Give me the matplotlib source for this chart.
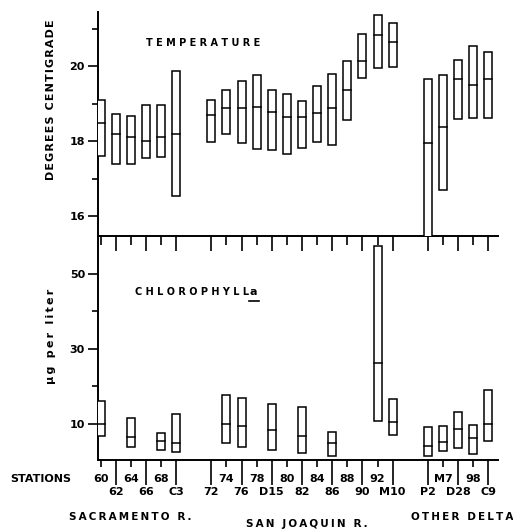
import matplotlib.pyplot as plt
from matplotlib.patches import Rectangle

# --- DONNEES ---
stations = ["60", "62", "64", "66", "68", "C3",
            "72", "74", "76", "78", "D15", "80", "82", "84", "86", "88", "90", "92", "M10",
            "P2", "M7", "D28", "98", "C9"]
group_sizes = [6, 13, 5]
group_names = ["SACRAMENTO R.", "SAN JOAQUIN R.", "OTHER DELTA"]
# ligne d'etiquette : 1 = haut (tiret court), 2 = bas (tiret long)
label_row = [1, 2, 1, 2, 1, 2,
             2, 1, 2, 1, 2, 1, 2, 1, 2, 1, 2, 1, 2,
             2, 1, 2, 1, 2]

temp_low = [17.61, 17.38, 17.38, 17.55, 17.59, 16.53,
            17.99, 18.20, 17.96, 17.80, 17.77, 17.66, 17.81, 17.97, 17.90, 18.58, 19.69, 19.95, 19.97,
            15.00, 16.70, 18.60, 18.61, 18.61]
temp_med = [18.49, 18.19, 18.11, 18.00, 18.10, 18.20,
            18.69, 18.90, 18.90, 18.91, 18.78, 18.66, 18.65, 18.75, 18.90, 19.38, 20.14, 20.84, 20.64,
            17.94, 18.38, 19.65, 19.49, 19.65]
temp_high = [19.09, 18.74, 18.67, 18.98, 18.98, 19.88,
             19.09, 19.37, 19.60, 19.76, 19.36, 19.26, 19.08, 19.48, 19.80, 20.15, 20.86, 21.37, 21.16,
             19.65, 19.77, 20.18, 20.55, 20.37]

chl_low = [6.7, None, 3.65, None, 2.85, 2.4,
           None, 4.7, 3.65, None, 2.9, None, 2.05, None, 1.4, None, None, 10.75, 7.0,
           1.3, 2.7, 3.4, 1.95, 5.3]
chl_med = [9.9, None, 6.3, None, 5.25, 4.9,
           None, 9.9, 9.3, None, 8.2, None, 6.7, None, 4.7, None, None, 26.2, 10.5,
           4.0, 5.1, 8.6, 6.05, 9.9]
chl_high = [16.1, None, 11.4, None, 7.5, 12.5,
            None, 17.5, 16.8, None, 15.3, None, 14.5, None, 7.8, None, None, 57.4, 16.5,
            9.0, 9.3, 13.0, 9.7, 18.9]

# --- POSITIONS ---
GAP = 1.33
pos = []
centers = []
x = 0.0
for n in group_sizes:
    start = x
    for i in range(n):
        pos.append(x)
        x += 1
    centers.append(start + (n - 1) / 2)
    x += GAP

W = 0.53
BOLD = dict(fontweight="bold", family="DejaVu Sans")


def boites(ax, low, med, high):
    for xi, lo, me, hi in zip(pos, low, med, high):
        if lo is None:
            continue
        ax.add_patch(Rectangle((xi - W / 2, lo), W, hi - lo, facecolor="white",
                               edgecolor="black", lw=1.1, zorder=3))
        ax.plot([xi - W / 2, xi + W / 2], [me, me], color="black", lw=1.1, zorder=4)


def style(ax):
    for s in ["top", "right"]:
        ax.spines[s].set_visible(False)
    for s in ["left", "bottom"]:
        ax.spines[s].set_linewidth(1.4)
    ax.set_xlim(-0.2, 26.3)
    ax.set_facecolor("none")
    ax.tick_params(axis="y", which="major", direction="out", length=7, width=1.2,
                   labelsize=8, pad=2)
    ax.tick_params(axis="y", which="minor", direction="out", length=4.5, width=1.2)
    for t in ax.get_yticklabels():
        t.set_fontweight("bold")


fig = plt.figure(figsize=(5.13, 5.29), dpi=100)
L, R = 97.5 / 513, 498 / 513
ax_c = fig.add_axes([L, 69 / 529, R - L, 224 / 529])
ax_t = fig.add_axes([L, 293 / 529, R - L, 224 / 529])

major = [p for p, r in zip(pos, label_row) if r == 2]
minor = [p for p, r in zip(pos, label_row) if r == 1]

# --- TEMPERATURE ---
boites(ax_t, temp_low, temp_med, temp_high)
ax_t.set_ylim(15.47, 21.45)
ax_t.set_yticks([16, 18, 20])
ax_t.set_yticks([17, 19, 21], minor=True)
style(ax_t)
ax_t.set_xticks(major)
ax_t.set_xticks(minor, minor=True)
ax_t.tick_params(axis="x", which="major", direction="out", length=11, width=1.2,
                 labelbottom=False)
ax_t.tick_params(axis="x", which="minor", direction="out", length=6.5, width=1.2,
                 labelbottom=False)
ax_t.text(0.122, 0.862, " ".join("TEMPERATURE"), transform=ax_t.transAxes,
          fontsize=7, ha="left", va="center", **BOLD)

# --- CHLOROPHYLLE ---
boites(ax_c, chl_low, chl_med, chl_high)
ax_c.set_ylim(0.3, 60)
ax_c.set_yticks([10, 30, 50])
ax_c.set_yticks([20, 40], minor=True)
style(ax_c)
ax_c.set_xticks(major)
ax_c.set_xticklabels([s for s, r in zip(stations, label_row) if r == 2])
ax_c.set_xticks(minor, minor=True)
ax_c.set_xticklabels([s for s, r in zip(stations, label_row) if r == 1], minor=True)
ax_c.tick_params(axis="x", which="major", direction="out", length=18, width=1.2,
                 labelsize=8, pad=1.5)
ax_c.tick_params(axis="x", which="minor", direction="out", length=5, width=1.2,
                 labelsize=8, pad=5)
for t in ax_c.get_xticklabels(which="both"):
    t.set_fontweight("bold")
ax_c.text(0.0925, 0.75, " ".join("CHLOROPHYLL"), transform=ax_c.transAxes,
          fontsize=7, ha="left", va="center", **BOLD)
ax_c.text(0.39, 0.75, "a", transform=ax_c.transAxes,
          fontsize=8, ha="center", va="center", **BOLD)
ax_c.plot([0.378, 0.402], [0.71, 0.71], transform=ax_c.transAxes, color="black",
          lw=1.2, clip_on=False)

# noms des groupes
offsets = [-0.5, 0.35, 0.3]
rows_y = [-41, -46, -41]
for c, off, dy, name in zip(centers, offsets, rows_y, group_names):
    ax_c.annotate(name.replace("", "\u2009").strip(),
                  xy=(c + off, 0), xycoords=("data", "axes fraction"),
                  xytext=(0, dy), textcoords="offset points",
                  ha="center", va="center", fontsize=7.5, annotation_clip=False, **BOLD)

fig.text(10 / 513, (529 - 479) / 529, "STATIONS", fontsize=8, ha="left", va="center", **BOLD)
fig.text(51 / 513, (529 - 100) / 529, "DEGREES CENTIGRADE".replace("", "\u200a").strip(),
         rotation=90, fontsize=8, ha="center", va="center", **BOLD)
fig.text(51 / 513, (529 - 336) / 529, "\u00b5g per liter".replace("", "\u2009").strip(),
         rotation=90, fontsize=8, ha="center", va="center", **BOLD)

fig.savefig("out.png", dpi=100)
